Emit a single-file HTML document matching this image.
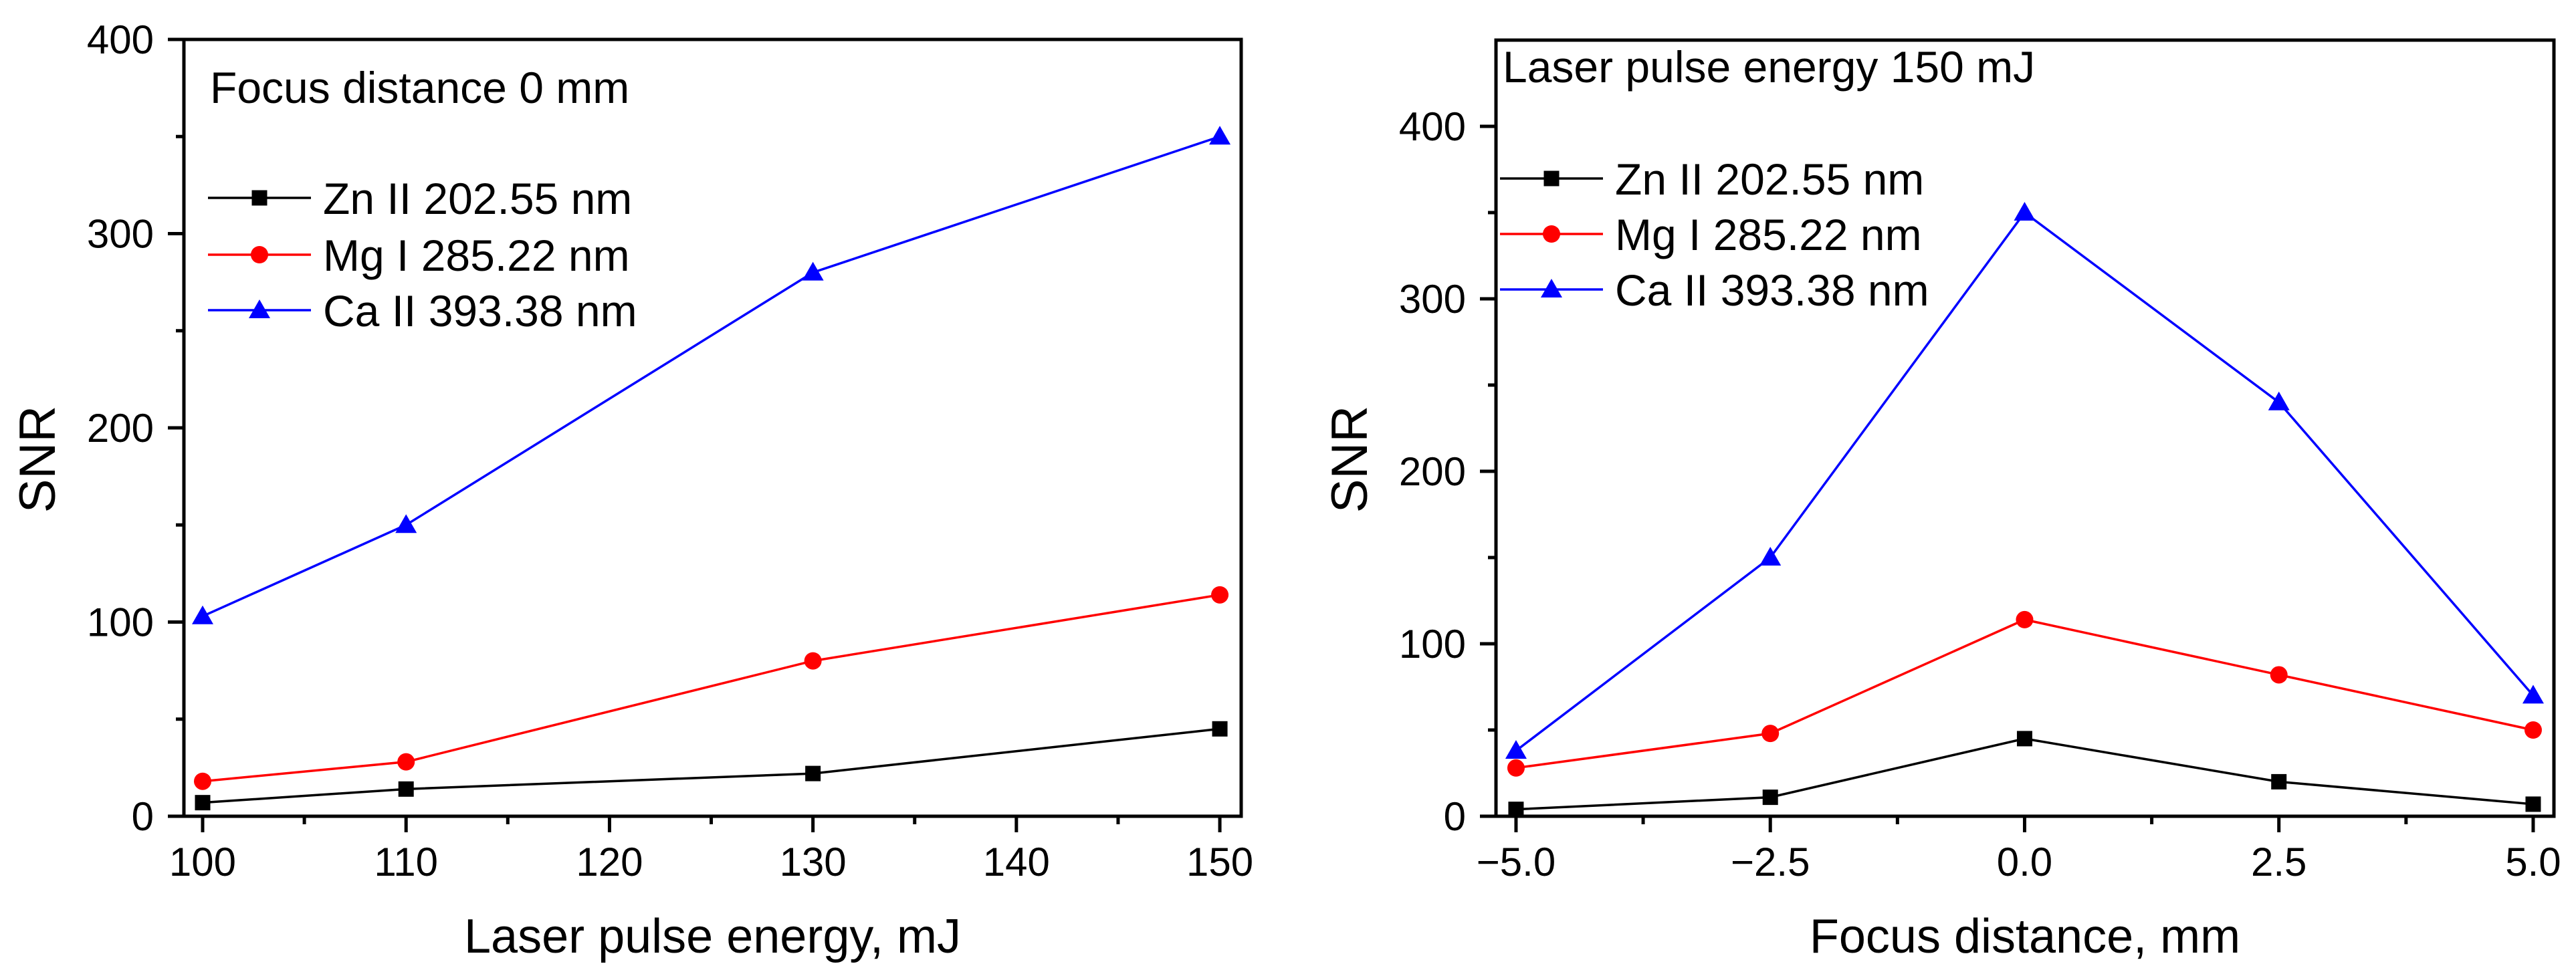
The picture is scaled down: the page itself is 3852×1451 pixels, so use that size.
<!DOCTYPE html>
<html><head><meta charset="utf-8"><style>
html,body{margin:0;padding:0;background:#fff;}
svg{display:block;font-family:"Liberation Sans",Arial,sans-serif;}
</style></head><body>
<svg id="fig" width="3852" height="1451" viewBox="0 0 3852 1451" xmlns="http://www.w3.org/2000/svg"></svg>
<script>
// Left panel data
const leftX = [100, 110, 130, 150];
const leftZn = [7, 14, 22, 45];
const leftMg = [18, 28, 80, 114];
const leftCa = [103, 150, 280, 350];
const leftXTicks = [100, 110, 120, 130, 140, 150];
const leftYTicks = [0, 100, 200, 300, 400];
// Right panel data
const rightX = [-5, -2.5, 0, 2.5, 5];
const rightZn = [4, 11, 45, 20, 7];
const rightMg = [28, 48, 114, 82, 50];
const rightCa = [38, 150, 350, 240, 70];
const rightXTicks = [-5, -2.5, 0, 2.5, 5];
const rightXTickLabels = ["\u22125.0", "\u22122.5", "0.0", "2.5", "5.0"];
const rightYTicks = [0, 100, 200, 300, 400];
const seriesNames = ["Zn II 202.55 nm", "Mg I 285.22 nm", "Ca II 393.38 nm"];

const NS = "http://www.w3.org/2000/svg";
const svg = document.getElementById('fig');
function mk(tag, attrs, parent) {
  const e = document.createElementNS(NS, tag);
  for (const k in attrs) e.setAttribute(k, attrs[k]);
  (parent || svg).appendChild(e);
  return e;
}
function marker(g, kind, cx, cy, color) {
  let m;
  if (kind === 0) m = mk('rect', {x: cx - 11.5, y: cy - 11.5, width: 23, height: 23, fill: color}, g);
  else if (kind === 1) m = mk('circle', {cx: cx, cy: cy, r: 13, fill: color}, g);
  else m = mk('polygon', {points: `${cx},${cy - 16} ${cx + 16},${cy + 12} ${cx - 16},${cy + 12}`, fill: color}, g);
  return m;
}
const colors = ["#000000", "#ff0000", "#0000ff"];

function panel(cfg) {
  const {L, R, T, B, x0, x1, y0, y1, name} = cfg;
  const sx = v => L + (v - x0) / (x1 - x0) * (R - L);
  const sy = v => B - (v - y0) / (y1 - y0) * (B - T);
  const g = mk('g', {});
  
  
  // frame
  const fr = mk('rect', {x: L, y: T, width: R - L, height: B - T, fill: 'none', stroke: '#000', 'stroke-width': 5}, g);
  
  
  // x ticks
  cfg.xTicks.forEach((v, i) => {
    const x = sx(v);
    const t = mk('line', {x1: x, y1: B, x2: x, y2: B + 24, stroke: '#000', 'stroke-width': 5}, g);
    
    
    const tx = mk('text', {x: x, y: B + 89, 'font-size': 60, 'text-anchor': 'middle'}, g);
    tx.textContent = cfg.xLabels ? cfg.xLabels[i] : String(v);
    
    
  });
  for (let v = cfg.xTicks[0] + cfg.xMinor; v < x1; v += 2 * cfg.xMinor) {
    const x = sx(v);
    const t = mk('line', {x1: x, y1: B, x2: x, y2: B + 12, stroke: '#000', 'stroke-width': 5}, g);
    
    
  }
  cfg.yTicks.forEach(v => {
    const y = sy(v);
    const t = mk('line', {x1: L - 24, y1: y, x2: L, y2: y, stroke: '#000', 'stroke-width': 5}, g);
    
    
    const tx = mk('text', {x: L - 45, y: y + 21, 'font-size': 60, 'text-anchor': 'end'}, g);
    tx.textContent = String(v);
    
    
  });
  for (let v = 50; v < y1; v += 100) {
    const y = sy(v);
    const t = mk('line', {x1: L - 12, y1: y, x2: L, y2: y, stroke: '#000', 'stroke-width': 5}, g);
    
    
  }
  // axis titles
  const xt = mk('text', {x: (L + R) / 2, y: 1425, 'font-size': 72, 'text-anchor': 'middle'}, g);
  xt.textContent = cfg.xTitle;
  
  
  const yt = mk('text', {x: 0, y: 0, 'font-size': 76, 'text-anchor': 'middle', transform: `translate(${L - 193},687) rotate(-90)`}, g);
  yt.textContent = 'SNR';
  
  
  // series
  cfg.series.forEach((vals, k) => {
    const sg = mk('g', {}, g);
    
    
    const pts = vals.map((v, i) => sx(cfg.xs[i]) + ',' + sy(v)).join(' ');
    const pl = mk('polyline', {points: pts, fill: 'none', stroke: colors[k], 'stroke-width': 3.5}, sg);
    
    
    vals.forEach((v, i) => {
      const m = marker(sg, k, sx(cfg.xs[i]), sy(v), colors[k]);
      
      
    });
  });
  // annotation
  const an = mk('text', {x: cfg.annX, y: cfg.annY, 'font-size': 66}, g);
  an.textContent = cfg.ann;
  
  
  // legend
  const lg = mk('g', {}, g);
  
  
  seriesNames.forEach((n, k) => {
    const y = cfg.legY[k];
    const eg = mk('g', {}, lg);
    
    
    mk('line', {x1: cfg.legX, y1: y, x2: cfg.legX + 154, y2: y, stroke: colors[k], 'stroke-width': 3.5}, eg);
    marker(eg, k, cfg.legX + 77, y, colors[k]);
    const t = mk('text', {x: cfg.legX + 172, y: y + 24, 'font-size': 66}, eg);
    t.textContent = n;
  });
}

panel({name: 'left-panel', L: 275, R: 1856, T: 59, B: 1221, x0: 99.08, x1: 151.05, y0: 0, y1: 400,
  xTicks: leftXTicks, xMinor: 5, yTicks: leftYTicks, xs: leftX, series: [leftZn, leftMg, leftCa],
  xTitle: 'Laser pulse energy, mJ', ann: 'Focus distance 0 mm', annX: 314, annY: 154,
  legX: 311, legY: [296, 381, 464]});
panel({name: 'right-panel', L: 2237, R: 3819, T: 60, B: 1221, x0: -5.197, x1: 5.204, y0: 0, y1: 450,
  xTicks: rightXTicks, xLabels: rightXTickLabels, xMinor: 1.25, yTicks: rightYTicks, xs: rightX,
  series: [rightZn, rightMg, rightCa],
  xTitle: 'Focus distance, mm', ann: 'Laser pulse energy 150 mJ', annX: 2247, annY: 123,
  legX: 2243, legY: [267, 350, 433]});
</script>
</body></html>
